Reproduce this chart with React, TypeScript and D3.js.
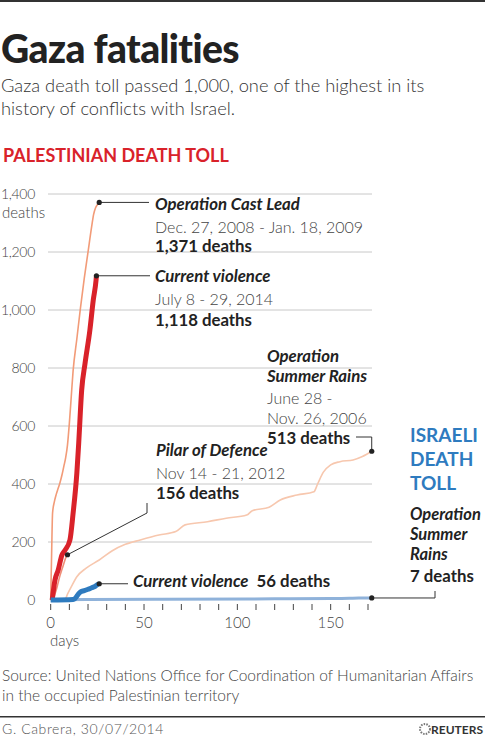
import * as React from "react";
import * as d3 from "d3";

// Palestinian death tolls (cumulative)
const CAST_LEAD_DAYS = [0, 0.5, 1, 2, 3, 4, 5, 6, 7, 8, 9, 10, 11, 12, 14, 16, 18, 20, 22, 23, 24, 25, 26];
const CAST_LEAD_TOLL = [0, 160, 300, 340, 365, 385, 405, 430, 460, 490, 535, 610, 700, 790, 900, 1010, 1110, 1200, 1290, 1330, 1352, 1363, 1371];

const CURRENT_DAYS = [0.8, 2.3, 4, 6, 7.7, 10.3, 12, 14, 15, 16.6, 18.4, 21, 22.8, 24.3, 24.5];
const CURRENT_TOLL = [0, 69, 103, 155, 172, 207, 299, 437, 540, 724, 816, 931, 1034, 1103, 1118];

const PILAR_DAYS = [1.5, 2, 3, 4, 5, 6, 7, 8, 9];
const PILAR_TOLL = [0, 15, 35, 60, 85, 105, 125, 145, 156];

const SUMMER_DAYS = [0, 7.5, 9, 11, 14, 19, 26, 33, 40, 48, 58, 67, 72, 84, 94, 105, 108, 117, 123, 132, 141, 143, 146, 150, 155, 162, 167, 172];
const SUMMER_TOLL = [0, 0, 20, 45, 80, 110, 138, 170, 192, 207, 224, 236, 259, 270, 282, 293, 308, 320, 345, 362, 373, 400, 440, 466, 477, 483, 495, 513];

// Israeli death tolls
const ISR_CURRENT_DAYS = [0, 12, 13, 14, 15, 16, 18, 20, 22, 24, 25, 26];
const ISR_CURRENT_TOLL = [0, 2, 5, 13, 22, 28, 32, 37, 42, 48, 53, 56];

const ISR_SUMMER_DAYS = [0, 2, 20, 60, 120, 150, 160, 165, 172];
const ISR_SUMMER_TOLL = [0, 1, 2, 3, 4, 5, 6, 7, 7];

const Y_TICKS = [0, 200, 400, 600, 800, 1000, 1200, 1400];
const X_TICKS = d3.range(0, 171, 10);
const X_LABELS = [0, 50, 100, 150];

const FONT = "Lato, 'Noto Sans', sans-serif";
const RED = "#d9222a";
const BLUE = "#2e7bbf";
const BOLD = 16.8;
const LIGHT = 16;

const zip = (xs: number[], ys: number[]) => xs.map((d, i) => [d, ys[i]] as [number, number]);

export default function App() {
  const W = 485;
  const H = 742;
  const x = d3.scaleLinear().domain([0, 170]).range([50.7, 368]);
  const y = d3.scaleLinear().domain([0, 1400]).range([600, 194]);
  const line = d3
    .line<[number, number]>()
    .x((d) => x(d[0]))
    .y((d) => y(d[1]))
    .curve(d3.curveMonotoneX);

  const castLead = zip(CAST_LEAD_DAYS, CAST_LEAD_TOLL);
  const current = zip(CURRENT_DAYS, CURRENT_TOLL);
  const pilar = zip(PILAR_DAYS, PILAR_TOLL);
  const summer = zip(SUMMER_DAYS, SUMMER_TOLL);
  const isrCurrent = zip(ISR_CURRENT_DAYS, ISR_CURRENT_TOLL);
  const isrSummer = zip(ISR_SUMMER_DAYS, ISR_SUMMER_TOLL);

  const last = (a: [number, number][]) => [x(a[a.length - 1][0]), y(a[a.length - 1][1])];
  const [clX, clY] = last(castLead);
  const [cuX, cuY] = last(current);
  const [piX, piY] = last(pilar);
  const [suX, suY] = last(summer);
  const [icX, icY] = last(isrCurrent);
  const [isX, isY] = last(isrSummer);

  const dot = (cx: number, cy: number) => <circle cx={cx} cy={cy} r={2.6} fill="#222" />;
  const fmt = d3.format(",");

  return (
    <div style={{ position: "absolute", left: 0, top: 0 }}>
      <svg width={W} height={H} style={{ display: "block", fontFamily: FONT }}>
        <rect width={W} height={H} fill="#fff" />
        <rect x={0} y={0} width={W} height={2} fill="#333" />

        {/* header */}
        <text x={1} y={63} fontSize={39} fontWeight={900} fill="#222" letterSpacing={-0.6}>
          Gaza fatalities
        </text>
        <text x={1} y={92} fontSize={18.3} fontWeight={300} fill="#333">
          Gaza death toll passed 1,000, one of the highest in its
        </text>
        <text x={1} y={115} fontSize={18.3} fontWeight={300} fill="#333">
          history of conflicts with Israel.
        </text>
        <text x={3} y={162} fontSize={18} fontWeight={700} fill={RED}>
          PALESTINIAN DEATH TOLL
        </text>

        {/* grid */}
        {Y_TICKS.filter((t) => t > 0).map((t) => (
          <line key={t} x1={48} x2={372} y1={y(t)} y2={y(t)} stroke="#c8c8c8" strokeWidth={1} />
        ))}
        {Y_TICKS.map((t) => (
          <text key={t} x={35} y={y(t)} dy="0.35em" textAnchor="end" fontSize={14} fontWeight={300} fill="#444" letterSpacing={-0.3}>
            {fmt(t)}
          </text>
        ))}
        <text x={2} y={y(1400) + 19} dy="0.35em" fontSize={15} fontWeight={300} fill="#444">
          deaths
        </text>

        {/* x axis */}
        {X_TICKS.map((t) => (
          <line key={t} x1={x(t)} x2={x(t)} y1={604} y2={610} stroke="#444" strokeWidth={1} />
        ))}
        {X_LABELS.map((t) => (
          <text key={t} x={x(t)} y={628} textAnchor="middle" fontSize={15} fontWeight={300} fill="#444">
            {t}
          </text>
        ))}
        <text x={50} y={646} fontSize={15} fontWeight={300} fill="#444">
          days
        </text>

        {/* series */}
        <path d={line(isrSummer) ?? ""} fill="none" stroke="#8fb2da" strokeWidth={3} />
        <path d={line(summer) ?? ""} fill="none" stroke="#f7c7ae" strokeWidth={1.6} />
        <path d={line(castLead) ?? ""} fill="none" stroke="#f29b78" strokeWidth={1.6} />
        <path d={line(pilar) ?? ""} fill="none" stroke="#ef8e78" strokeWidth={1.6} />
        <path d={line(current) ?? ""} fill="none" stroke={RED} strokeWidth={5} />
        <path d={line(isrCurrent) ?? ""} fill="none" stroke={BLUE} strokeWidth={5} />

        {/* annotations: Cast Lead */}
        <line x1={clX} y1={clY} x2={149} y2={clY} stroke="#333" strokeWidth={1} />
        {dot(clX, clY)}
        <text x={155} y={210} fontSize={BOLD} fontWeight={700} fontStyle="italic" fill="#222">
          Operation Cast Lead
        </text>
        <text x={155} y={233} fontSize={LIGHT} fontWeight={300} fill="#444">
          Dec. 27, 2008 - Jan. 18, 2009
        </text>
        <text x={155} y={252} fontSize={BOLD} fontWeight={700} fill="#222">
          1,371 deaths
        </text>

        {/* Current violence */}
        <line x1={cuX} y1={cuY} x2={150} y2={cuY} stroke="#333" strokeWidth={1} />
        {dot(cuX, cuY)}
        <text x={155} y={282} fontSize={BOLD} fontWeight={700} fontStyle="italic" fill="#222">
          Current violence
        </text>
        <text x={155} y={305} fontSize={LIGHT} fontWeight={300} fill="#444">
          July 8 - 29, 2014
        </text>
        <text x={155} y={326} fontSize={BOLD} fontWeight={700} fill="#222">
          1,118 deaths
        </text>

        {/* Summer Rains */}
        <text x={267} y={362} fontSize={BOLD} fontWeight={700} fontStyle="italic" fill="#222">
          Operation
        </text>
        <text x={267} y={382} fontSize={BOLD} fontWeight={700} fontStyle="italic" fill="#222">
          Summer Rains
        </text>
        <text x={267} y={404} fontSize={LIGHT} fontWeight={300} fill="#444">
          June 28 -
        </text>
        <text x={267} y={424} fontSize={LIGHT} fontWeight={300} fill="#444">
          Nov. 26, 2006
        </text>
        <text x={267} y={444} fontSize={BOLD} fontWeight={700} fill="#222">
          513 deaths
        </text>
        <polyline points={`${356},${437} ${suX},${437} ${suX},${suY}`} fill="none" stroke="#333" strokeWidth={1} />
        {dot(suX, suY)}

        {/* Pilar of Defence */}
        <text x={156} y={456} fontSize={BOLD} fontWeight={700} fontStyle="italic" fill="#222">
          Pilar of Defence
        </text>
        <text x={156} y={479} fontSize={LIGHT} fontWeight={300} fill="#444">
          Nov 14 - 21, 2012
        </text>
        <text x={156} y={499} fontSize={BOLD} fontWeight={700} fill="#222">
          156 deaths
        </text>
        <polyline points={`${147},${503} ${147},${513} ${piX},${piY}`} fill="none" stroke="#333" strokeWidth={1} />
        {dot(piX, piY)}

        {/* Israeli current violence */}
        <line x1={icX} y1={icY} x2={128} y2={icY} stroke="#333" strokeWidth={1} />
        {dot(icX, icY)}
        <text x={133} y={587} fontSize={BOLD} fontWeight={700} fill="#222">
          <tspan fontStyle="italic">Current violence</tspan>
          <tspan dx={8}>56 deaths</tspan>
        </text>

        {/* Israeli side */}
        <text x={410} y={442} fontSize={19} fontWeight={700} fill={BLUE}>ISRAELI</text>
        <text x={410} y={466} fontSize={19} fontWeight={700} fill={BLUE}>DEATH</text>
        <text x={410} y={490} fontSize={19} fontWeight={700} fill={BLUE}>TOLL</text>
        <text x={410} y={520} fontSize={16.5} fontWeight={700} fontStyle="italic" fill="#222">Operation</text>
        <text x={410} y={540} fontSize={16.5} fontWeight={700} fontStyle="italic" fill="#222">Summer</text>
        <text x={410} y={560} fontSize={16.5} fontWeight={700} fontStyle="italic" fill="#222">Rains</text>
        <text x={410} y={582} fontSize={BOLD} fontWeight={700} fill="#222">7 deaths</text>
        <polyline points={`${isX},${isY} ${435},${isY} ${435},${591}`} fill="none" stroke="#333" strokeWidth={1} />
        {dot(isX, isY)}

        {/* footer */}
        <text x={2} y={681} fontSize={15.5} fontWeight={300} fill="#444">
          Source: United Nations Office for Coordination of Humanitarian Affairs
        </text>
        <text x={2} y={701} fontSize={15.5} fontWeight={300} fill="#444">
          in the occupied Palestinian territory
        </text>
        <rect x={0} y={716} width={W} height={1.5} fill="#333" />
        <text x={2} y={734} fontSize={14} fontWeight={300} fill="#555" letterSpacing={0.6}>
          G. Cabrera, 30/07/2014
        </text>
        <circle cx={425} cy={729} r={5} fill="none" stroke="#777" strokeWidth={2} strokeDasharray="1.5 1.2" />
        <text x={483} y={734} textAnchor="end" fontSize={12} fontWeight={700} fill="#333">
          REUTERS
        </text>
      </svg>
    </div>
  );
}
